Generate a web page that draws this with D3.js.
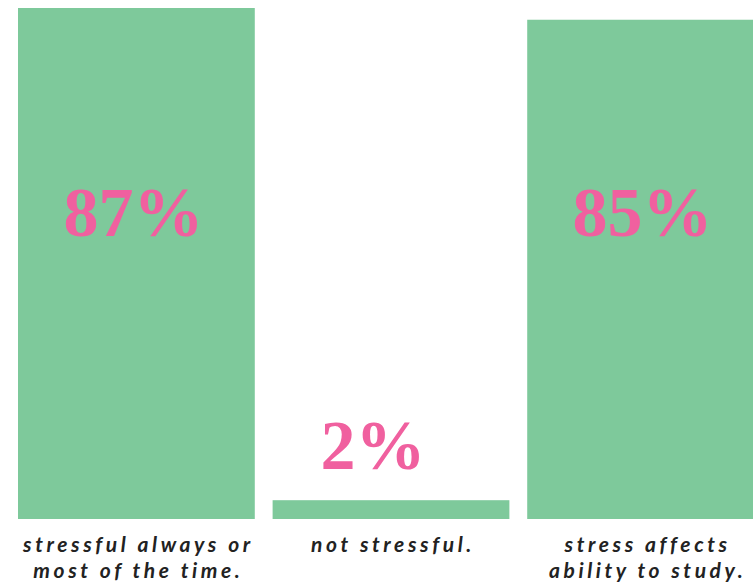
<!DOCTYPE html>
<html>
<head>
<meta charset="utf-8">
<script src="https://cdn.jsdelivr.net/npm/d3@7/dist/d3.min.js"></script>
<style>
  html, body { margin: 0; padding: 0; background: #fff; }
  svg { display: block; }
</style>
</head>
<body>
<svg id="chart" width="753" height="582"></svg>
<script>
const categories = ["stressful always or most of the time.", "not stressful.", "stress affects ability to study."];
const categoryLines = [["stressful always or", "most of the time."], ["not stressful."], ["stress affects", "ability to study."]];
const values = [87, 3.2, 85];
const valueLabels = ["87%", "2%", "85%"];

const W = 753, H = 582;
const svg = d3.select("#chart");

const x = d3.scaleBand().domain(categories).range([18, 764]).paddingInner(0.07).paddingOuter(0);
const y = d3.scaleLinear().domain([0, 87]).range([519, 8]);

const green = "#7ec99b";
const pink = "#f0609f";

svg.selectAll("rect.bar").data(categories).join("rect")
  .attr("class", "bar")
  .attr("x", d => x(d))
  .attr("width", x.bandwidth())
  .attr("y", (d, i) => y(values[i]))
  .attr("height", (d, i) => y(0) - y(values[i]))
  .attr("fill", green);

svg.selectAll("text.val").data(categories).join("text")
  .attr("class", "val")
  .attr("x", d => x(d) + x.bandwidth() / 2)
  .attr("dx", (d, i) => values[i] > 20 ? -3 : -18)
  .attr("y", (d, i) => values[i] > 20 ? 236 : y(values[i]) - 31)
  .attr("text-anchor", "middle")
  .attr("font-family", "'Liberation Serif', 'DejaVu Serif', serif")
  .attr("font-weight", "bold")
  .attr("font-size", 70)
  .attr("fill", pink)
  .text((d, i) => valueLabels[i]);

const lab = svg.selectAll("text.cat").data(categories).join("text")
  .attr("class", "cat")
  .attr("text-anchor", "middle")
  .attr("font-family", "Lato, 'Open Sans', sans-serif")
  .attr("font-style", "italic")
  .attr("font-weight", "bold")
  .attr("font-size", 21)
  .attr("letter-spacing", 3.6)
  .attr("fill", "#222");

lab.each(function(d, i) {
  const t = d3.select(this);
  categoryLines[i].forEach((line, j) => {
    t.append("tspan")
      .attr("x", x(d) + x.bandwidth() / 2 + 2)
      .attr("y", 552 + j * 26)
      .text(line);
  });
});
</script>
</body>
</html>
